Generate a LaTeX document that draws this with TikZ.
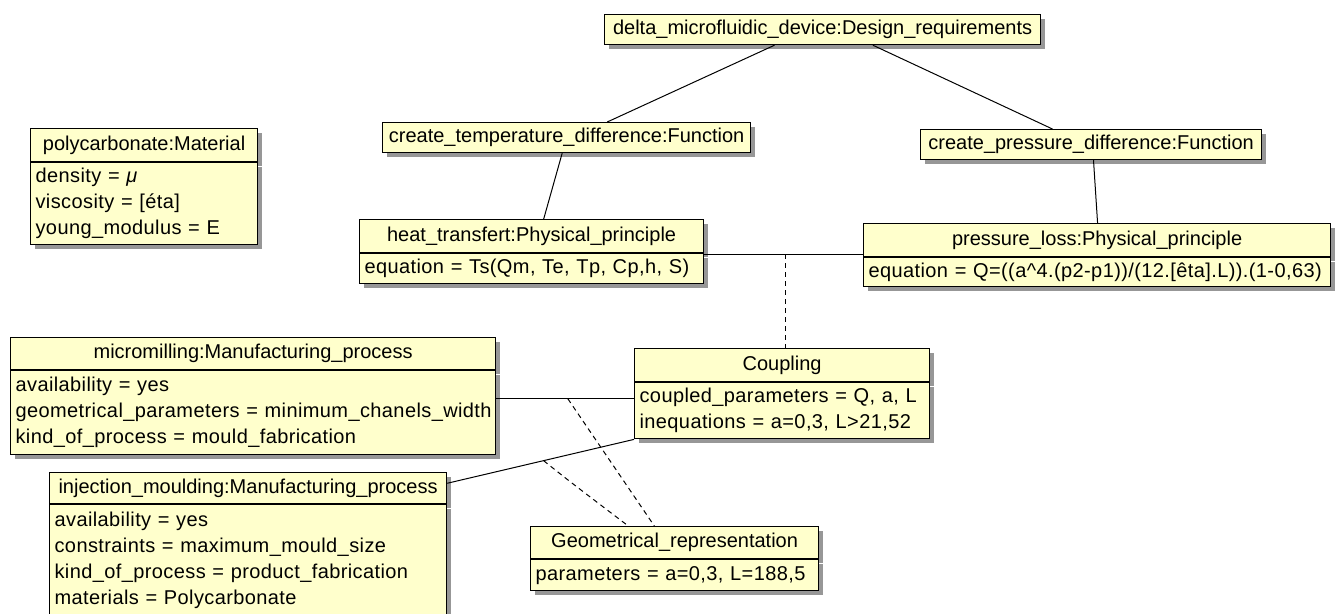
\documentclass[tikz,border=0pt]{standalone}
\usepackage{fontspec}
\setmainfont{Liberation Sans}
\newfontfamily\umlbodyfont{Liberation Sans}[LetterSpace=2.0]
\usetikzlibrary{shadows,calc}
\definecolor{boxfill}{HTML}{FFFFCC}
\definecolor{shadowgray}{HTML}{8C8C8C}
\tikzset{
  uml/.style={draw=black, line width=1.2pt, fill=boxfill, inner sep=0pt, anchor=north west,
    drop shadow={shadow xshift=4pt, shadow yshift=-4pt, fill=shadowgray, opacity=0.9},
    font=\fontsize{20}{26}\selectfont},
  hdr/.style={uml, align=center},
  bdy/.style={uml, align=left, inner xsep=5pt, font=\umlbodyfont\fontsize{20}{26}\selectfont},
  conn/.style={draw=black, line width=1pt},
  dashconn/.style={draw=black, line width=1pt, dash pattern=on 5pt off 4pt}
}
\begin{document}
\begin{tikzpicture}[x=1pt,y=-1pt]
\useasboundingbox[fill=white] (0,0) rectangle (1343,613);

% Design requirements
\node[hdr, minimum width=436pt, minimum height=30pt] (delta) at (604,14) {delta\_microfluidic\_device:Design\_requirements};

% Functions
\node[hdr, minimum width=368pt, minimum height=30pt] (ct) at (382,122) {create\_temperature\_difference:Function};
\node[hdr, minimum width=341pt, minimum height=30pt] (cp) at (920,129) {create\_pressure\_difference:Function};

% Material
\node[hdr, minimum width=227pt, minimum height=33pt] (poly) at (30,128) {polycarbonate:Material};
\node[bdy, minimum width=227pt, text width=217pt, minimum height=82pt] (poly-b) at (poly.south west) {density = \textit{μ}\\viscosity = [éta]\\young\_modulus = E};

% Physical principles
\node[hdr, minimum width=344pt, minimum height=33pt] (ht) at (359,219) {heat\_transfert:Physical\_principle};
\node[bdy, minimum width=344pt, text width=334pt, minimum height=30pt] (ht-b) at (ht.south west) {equation = Ts(Qm, Te, Tp, Cp,h, S)};

\node[hdr, minimum width=467pt, minimum height=33pt] (pl) at (863,223) {pressure\_loss:Physical\_principle};
\node[bdy, minimum width=467pt, text width=457pt, minimum height=29pt] (pl-b) at (pl.south west) {equation = Q=((a\textasciicircum 4.(p2-p1))/(12.[êta].L)).(1-0,63)};

% Manufacturing processes
\node[hdr, minimum width=485pt, minimum height=32pt] (mm) at (10,337) {micromilling:Manufacturing\_process};
\node[bdy, minimum width=485pt, text width=475pt, minimum height=84pt] (mm-b) at (mm.south west) {availability = yes\\geometrical\_parameters = minimum\_chanels\_width\\kind\_of\_process = mould\_fabrication};

\node[hdr, minimum width=397pt, minimum height=31pt] (im) at (49,472) {injection\_moulding:Manufacturing\_process};
\node[bdy, minimum width=397pt, text width=387pt, minimum height=112pt] (im-b) at (im.south west) {availability = yes\\constraints = maximum\_mould\_size\\kind\_of\_process = product\_fabrication\\materials = Polycarbonate};

% Coupling
\node[hdr, minimum width=295pt, minimum height=33pt] (cpl) at (634,348) {Coupling};
\node[bdy, minimum width=295pt, text width=285pt, minimum height=56pt] (cpl-b) at (cpl.south west) {coupled\_parameters = Q, a, L\\inequations = a=0,3, L>21,52};

% Geometrical representation
\node[hdr, minimum width=288pt, minimum height=32pt] (geom) at (530,526) {Geometrical\_representation};
\node[bdy, minimum width=288pt, text width=278pt, minimum height=31pt] (geom-b) at (geom.south west) {parameters = a=0,3, L=188,5};

% connectors
\draw[conn] ($(delta.south west)!0.39!(delta.south east)$) -- ($(ct.north west)!0.61!(ct.north east)$);
\draw[conn] ($(delta.south west)!0.615!(delta.south east)$) -- ($(cp.north west)!0.387!(cp.north east)$);
\draw[conn] ($(ct.south west)!0.488!(ct.south east)$) -- ($(ht.north west)!0.535!(ht.north east)$);
\draw[conn] ($(cp.south west)!0.507!(cp.south east)$) -- ($(pl.north west)!0.501!(pl.north east)$);

\coordinate (hpL) at ($(ht.south east)+(0,1)$);
\coordinate (hpR) at (hpL -| pl.west);
\draw[conn] (hpL) -- (hpR);
\coordinate (cpltop) at ($(cpl.north west)!0.512!(cpl.north east)$);
\draw[dashconn] (cpltop |- hpL) -- (cpltop);

\coordinate (mc) at ($(cpl-b.north west)!0.29!(cpl-b.south west)$);
\coordinate (mcL) at (mc -| mm-b.east);
\draw[conn] (mcL) -- (mc);

\coordinate (imR) at ($(im.north east)!0.35!(im.south east)$);
\draw[conn] (imR) -- (cpl-b.south west);

\draw[dashconn] ($(mcL)!0.52!(mc)$) -- ($(geom.north west)!0.43!(geom.north east)$);
\draw[dashconn] ($(imR)!0.516!(cpl-b.south west)$) .. controls ($(imR)!0.516!(cpl-b.south west)+(25,20)$) .. ($(geom.north west)!0.34!(geom.north east)$);
\end{tikzpicture}
\end{document}
